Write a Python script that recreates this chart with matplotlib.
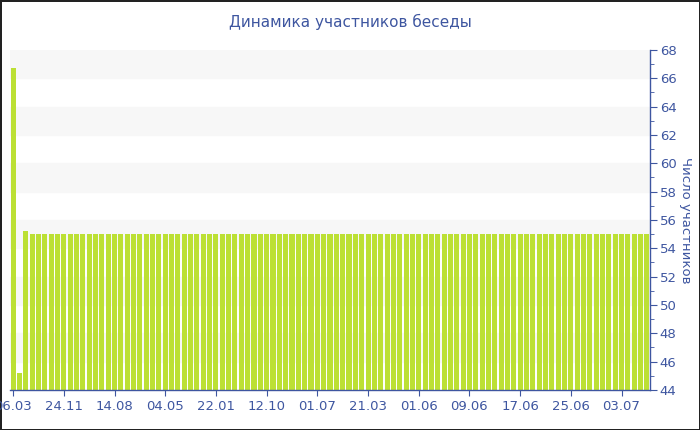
import matplotlib
matplotlib.use("Agg")
import matplotlib.pyplot as plt
from matplotlib.ticker import MultipleLocator

# data
n_bars = 101
first_values = [66.7, 45.2, 55.2]
rest_value = 55
values = first_values + [rest_value] * (n_bars - len(first_values))
tick_labels = ["06.03", "24.11", "14.08", "04.05", "22.01", "12.10", "01.07",
               "21.03", "01.06", "09.06", "17.06", "25.06", "03.07"]
tick_step = 8

title = "Динамика участников беседы"
ylabel = "Число участников"

blue = "#3e56a0"
bar_color = "#bce034"

fig = plt.figure(figsize=(7, 4.3), dpi=100)
fig.patch.set_edgecolor("#222222")
fig.patch.set_linewidth(2)
ax = fig.add_axes([0.0143, 0.093, 0.9143, 0.791])

# alternating bands
for lo in range(44, 68, 4):
    ax.axhspan(lo + 2, lo + 4, color="#f7f7f7", zorder=0)

x = list(range(n_bars))
ax.bar(x, values, width=0.8, color=bar_color, zorder=2)

ax.set_xlim(-0.5, n_bars - 0.5)
ax.set_ylim(44, 68)

ax.set_xticks(x[::tick_step][:len(tick_labels)])
ax.set_xticklabels(tick_labels)

ax.yaxis.tick_right()
ax.yaxis.set_label_position("right")
ax.yaxis.set_major_locator(MultipleLocator(2))
ax.yaxis.set_minor_locator(MultipleLocator(1))
ax.set_ylabel(ylabel, rotation=-90, labelpad=11, color=blue, fontsize=9.5)

for s in ["top", "left"]:
    ax.spines[s].set_visible(False)
for s in ["bottom", "right"]:
    ax.spines[s].set_color(blue)
    ax.spines[s].set_linewidth(1)

ax.tick_params(axis="both", colors=blue, labelcolor=blue, labelsize=9.5)
ax.tick_params(axis="y", which="major", length=5, pad=2)
ax.tick_params(axis="y", which="minor", length=3, color=blue)
ax.tick_params(axis="x", length=4, pad=3)

fig.text(0.5, 0.948, title, ha="center", va="center", color=blue, fontsize=11)

fig.savefig("out.png", dpi=100)
